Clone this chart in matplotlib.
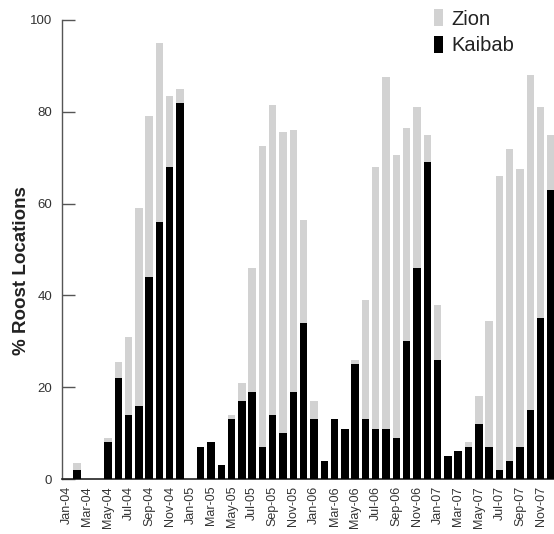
import matplotlib
matplotlib.use("Agg")
import matplotlib.pyplot as plt
import numpy as np

plt.rcParams['font.family'] = ['Liberation Sans', 'DejaVu Sans']

#monthly data, Jan-04 to Dec-07
years = ["04", "05", "06", "07"]
month_names = ["Jan", "Feb", "Mar", "Apr", "May", "Jun",
               "Jul", "Aug", "Sep", "Oct", "Nov", "Dec"]
months = [m + "-" + y for y in years for m in month_names]

kaibab = [0, 2, 0, 0, 8, 22, 14, 16, 44, 56, 68, 82,
          0, 7, 8, 3, 13, 17, 19, 7, 14, 10, 19, 34,
          13, 4, 13, 11, 25, 13, 11, 11, 9, 30, 46, 69,
          26, 5, 6, 7, 12, 7, 2, 4, 7, 15, 35, 63]

zion = [0, 3.5, 0, 0, 9, 25.5, 31, 59, 79, 95, 83.5, 85,
        0, 0, 0, 0, 14, 21, 46, 72.5, 81.5, 75.5, 76, 56.5,
        17, 0, 0, 0, 26, 39, 68, 87.5, 70.5, 76.5, 81, 75,
        38, 0, 0, 8, 18, 34.5, 66, 72, 67.5, 88, 81, 75]

x = np.arange(len(months))

fig = plt.figure(figsize=(5.54, 5.34), dpi=100)
ax = fig.add_axes([62/554, 55/534, 1 - 62/554, 459/534])

ax.bar(x, zion, width=0.72, color="#d2d2d2", label="Zion", zorder=2)
ax.bar(x, kaibab, width=0.72, color="black", label="Kaibab", zorder=3)

ax.set_xlim(-0.46, 47.3)
ax.set_ylim(0, 100)

ax.spines["top"].set_visible(False)
ax.spines["right"].set_visible(False)
ax.spines["left"].set_color("#555555")
ax.spines["bottom"].set_color("#222222")
ax.spines["left"].set_linewidth(1.0)
ax.spines["bottom"].set_linewidth(1.2)

ax.set_yticks([0, 20, 40, 60, 80, 100])
ax.tick_params(axis="y", direction="in", length=9, width=1, color="#555555",
               labelsize=9.5, labelcolor="#333333", pad=7)
ax.set_xticks(x[::2])
ax.set_xticklabels(months[::2], rotation=90)
ax.tick_params(axis="x", length=0, labelsize=9, labelcolor="#333333", pad=5)

fig.text(22/554, 1 - 271/534, "% Roost Locations", rotation=90,
         ha="center", va="center", fontsize=13.5, fontweight="bold", color="#222222")

ax.legend(loc="upper left", bbox_to_anchor=(434/554, 1 - 9/534),
          bbox_transform=fig.transFigure, frameon=False, fontsize=14.5,
          handlelength=0.45, handleheight=0.95, handletextpad=0.4,
          borderpad=0, borderaxespad=0, labelspacing=0.35, labelcolor="#222222")

fig.savefig("out.png", dpi=100)
